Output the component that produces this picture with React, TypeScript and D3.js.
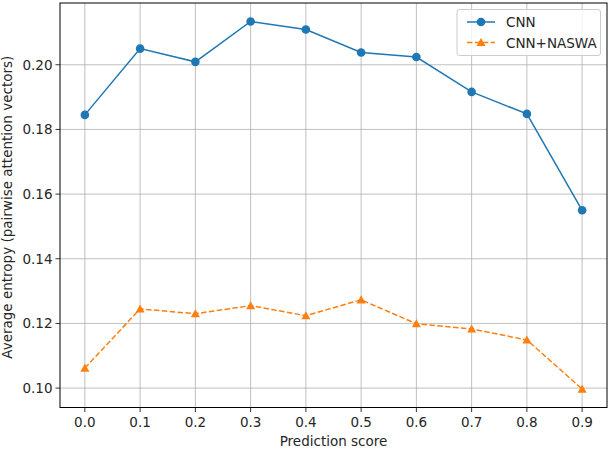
import React from "react";
import * as d3 from "d3";

const xValues = [0.0, 0.1, 0.2, 0.3, 0.4, 0.5, 0.6, 0.7, 0.8, 0.9];
const cnn = [0.1845, 0.205, 0.2009, 0.2134, 0.2109, 0.2038, 0.2024, 0.1916, 0.1848, 0.155];
const naswa = [0.1062, 0.1245, 0.1230, 0.1255, 0.1224, 0.1273, 0.1199, 0.1183, 0.1149, 0.0997];
const xTicks = [0.0, 0.1, 0.2, 0.3, 0.4, 0.5, 0.6, 0.7, 0.8, 0.9];
const yTicks = [0.10, 0.12, 0.14, 0.16, 0.18, 0.20];
const seriesNames = ["CNN", "CNN+NASWA"];

const W = 610, H = 450;
const L = 60, R = 607, T = 3, B = 407.5;
const font = "DejaVu Sans, sans-serif";
const FS = 13.5;

export default function App() {
  const x = d3.scaleLinear().domain([-0.045, 0.945]).range([L, R]);
  const y = d3.scaleLinear().domain([0.0940, 0.2191]).range([B, T]);
  const line = d3.line<number>().x((_, i) => x(xValues[i])).y(d => y(d));
  const blue = "#1f77b4", orange = "#ff7f0e";
  const tri = (cx: number, cy: number, s = 4.5) =>
    `M${cx},${cy - s}L${cx + s},${cy + s * 0.8}L${cx - s},${cy + s * 0.8}Z`;
  return (
    <svg width={W} height={H} style={{ position: "absolute", left: 0, top: 0 }} fontFamily={font}>
      <rect width={W} height={H} fill="white" />
      {xTicks.map(t => (
        <line key={"gx" + t} x1={x(t)} x2={x(t)} y1={T} y2={B} stroke="#b0b0b0" strokeWidth={0.8} />
      ))}
      {yTicks.map(t => (
        <line key={"gy" + t} x1={L} x2={R} y1={y(t)} y2={y(t)} stroke="#b0b0b0" strokeWidth={0.8} />
      ))}
      <path d={line(cnn) || ""} fill="none" stroke={blue} strokeWidth={1.5} />
      {cnn.map((v, i) => (
        <circle key={"c" + i} cx={x(xValues[i])} cy={y(v)} r={4.3} fill={blue} />
      ))}
      <path d={line(naswa) || ""} fill="none" stroke={orange} strokeWidth={1.5} strokeDasharray="5.5,2.4" />
      {naswa.map((v, i) => (
        <path key={"t" + i} d={tri(x(xValues[i]), y(v))} fill={orange} />
      ))}
      <rect x={L} y={T} width={R - L} height={B - T} fill="none" stroke="black" strokeWidth={1} />
      {xTicks.map(t => (
        <g key={"tx" + t}>
          <line x1={x(t)} x2={x(t)} y1={B} y2={B + 4.5} stroke="black" strokeWidth={0.8} />
          <text x={x(t)} y={B + 19} textAnchor="middle" fontSize={FS} fill="#262626">{t.toFixed(1)}</text>
        </g>
      ))}
      {yTicks.map(t => (
        <g key={"ty" + t}>
          <line x1={L - 4.5} x2={L} y1={y(t)} y2={y(t)} stroke="black" strokeWidth={0.8} />
          <text x={L - 7.5} y={y(t) + 5} textAnchor="end" fontSize={FS} fill="#262626">{t.toFixed(2)}</text>
        </g>
      ))}
      <text x={(L + R) / 2} y={446} textAnchor="middle" fontSize={FS} fill="#262626">Prediction score</text>
      <text transform={`translate(12,${(T + B) / 2 + 2}) rotate(-90)`} textAnchor="middle" fontSize={FS} fill="#262626">
        Average entropy (pairwise attention vectors)
      </text>
      <g>
        <rect x={457} y={9.5} width={143.5} height={46} rx={2.5} fill="white" fillOpacity={0.8} stroke="#cccccc" strokeWidth={1} />
        <line x1={467} x2={495} y1={22} y2={22} stroke={blue} strokeWidth={1.5} />
        <circle cx={481} cy={22} r={4.3} fill={blue} />
        <text x={506} y={27} fontSize={FS} fill="#262626">{seriesNames[0]}</text>
        <line x1={467} x2={495} y1={42.5} y2={42.5} stroke={orange} strokeWidth={1.5} strokeDasharray="5.5,2.4" />
        <path d={tri(481, 42.5)} fill={orange} />
        <text x={506} y={47.5} fontSize={FS} fill="#262626">{seriesNames[1]}</text>
      </g>
    </svg>
  );
}
